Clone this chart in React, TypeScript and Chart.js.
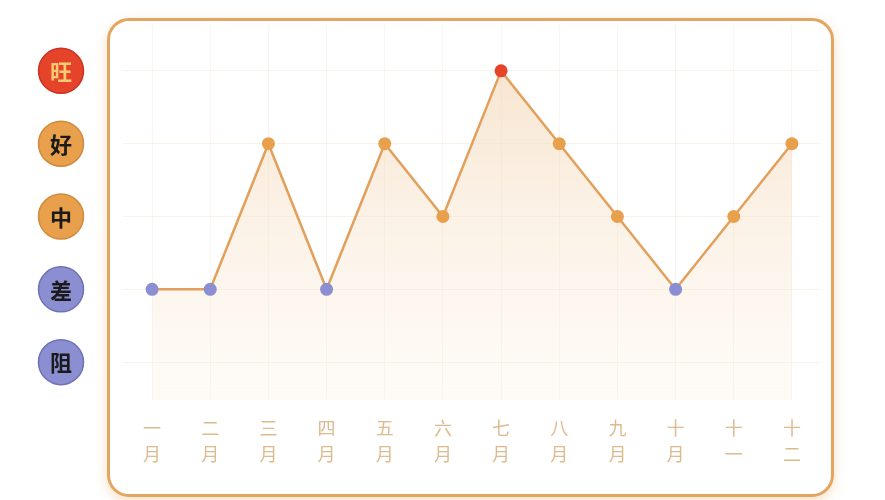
import { useRef, useEffect } from "react";
import { Chart, registerables } from "chart.js";

Chart.register(...registerables);

// Month labels, one character per line
const months = [
  ["一", "月"], ["二", "月"], ["三", "月"], ["四", "月"], ["五", "月"], ["六", "月"],
  ["七", "月"], ["八", "月"], ["九", "月"], ["十", "月"], ["十", "一"], ["十", "二"],
];
// Fortune level per month (1 = 阻 ... 5 = 旺)
const fortune = [2, 2, 4, 2, 4, 3, 5, 4, 3, 2, 3, 4];
const levelValues = [1, 2, 3, 4, 5];
const levelNames = ["阻", "差", "中", "好", "旺"];

const levelColor = (v: number): string => {
  if (v >= 5) return "#e6432b"; // red
  if (v >= 3) return "#e8a04c"; // orange
  return "#8b8fd2"; // purple
};
const levelRing = (v: number): string => {
  if (v >= 5) return "#c9331f";
  if (v >= 3) return "#cf8a3c";
  return "#6d71b6";
};
const levelText = (v: number): string => (v >= 5 ? "#f8cc70" : "#1a1a1a");

const badgePlugin = {
  id: "levelBadges",
  afterDraw(chart: Chart) {
    const { ctx, chartArea } = chart;
    const yScale = chart.scales["y"];
    const cx = chartArea.left - 62;
    ctx.save();
    levelValues.forEach((v, i) => {
      const cy = yScale.getPixelForValue(v);
      ctx.beginPath();
      ctx.arc(cx, cy, 22.5, 0, Math.PI * 2);
      ctx.fillStyle = levelColor(v);
      ctx.fill();
      ctx.lineWidth = 1.5;
      ctx.strokeStyle = levelRing(v);
      ctx.stroke();
      ctx.fillStyle = levelText(v);
      ctx.font = "600 22px 'Noto Sans CJK SC', serif";
      ctx.textAlign = "center";
      ctx.textBaseline = "middle";
      ctx.fillText(levelNames[i], cx, cy + 1);
    });
    ctx.restore();
  },
};

export default function App() {
  const chartRef = useRef<HTMLCanvasElement>(null);
  const chartInstanceRef = useRef<Chart | null>(null);

  useEffect(() => {
    if (!chartRef.current) return;
    const ctx = chartRef.current.getContext("2d");
    if (!ctx) return;

    chartInstanceRef.current = new Chart(ctx, {
      type: "line",
      data: {
        labels: months,
        datasets: [
          {
            data: fortune,
            borderColor: "#e2a05c",
            borderWidth: 2.5,
            tension: 0,
            fill: "start",
            backgroundColor: (c: any) => {
              const area = c.chart.chartArea;
              if (!area) return "rgba(245,225,200,0.5)";
              const g = c.chart.ctx.createLinearGradient(0, area.top, 0, area.bottom);
              g.addColorStop(0, "rgba(240, 205, 165, 0.6)");
              g.addColorStop(1, "rgba(252, 240, 225, 0.25)");
              return g;
            },
            pointRadius: 6.5,
            pointHoverRadius: 7,
            pointBorderWidth: 0,
            pointBackgroundColor: fortune.map((v) => levelColor(v)),
          },
        ],
      },
      options: {
        responsive: true,
        maintainAspectRatio: false,
        animation: false,
        layout: { padding: { left: 123, right: 64, top: 25, bottom: 0 } },
        scales: {
          x: {
            offset: true,
            grid: { offset: false, color: "rgba(235, 215, 190, 0.25)", drawTicks: false },
            border: { display: false },
            ticks: {
              color: "#dcbb8e",
              padding: 16,
              font: { size: 18, family: "'Noto Sans CJK SC', sans-serif", lineHeight: 1.4 },
              maxRotation: 0,
              autoSkip: false,
            },
            afterFit: (scale: any) => {
              scale.height = 100;
            },
          },
          y: {
            min: 0.48,
            max: 5.63,
            afterBuildTicks: (scale: any) => {
              scale.ticks = levelValues.map((v) => ({ value: v }));
            },
            grid: { color: "rgba(235, 215, 190, 0.3)", drawTicks: false },
            border: { display: false },
            ticks: { display: false },
            afterFit: (scale: any) => {
              scale.width = 0;
            },
          },
        },
        plugins: {
          legend: { display: false },
          tooltip: { enabled: false },
        },
      },
      plugins: [badgePlugin],
    });

    return () => {
      if (chartInstanceRef.current) {
        chartInstanceRef.current.destroy();
        chartInstanceRef.current = null;
      }
    };
  }, []);

  return (
    <div style={{ position: "fixed", left: 0, top: 0, width: 885, height: 500, background: "#fff" }}>
      <div
        style={{
          position: "absolute",
          left: 107,
          top: 18,
          width: 721,
          height: 473,
          border: "3px solid #e4a560",
          borderRadius: 22,
          background: "#fff",
          boxShadow: "0 4px 12px rgba(232, 167, 92, 0.35)",
        }}
      />
      <div style={{ position: "absolute", left: 0, top: 0, width: 885, height: 500 }}>
        <canvas ref={chartRef} />
      </div>
    </div>
  );
}
